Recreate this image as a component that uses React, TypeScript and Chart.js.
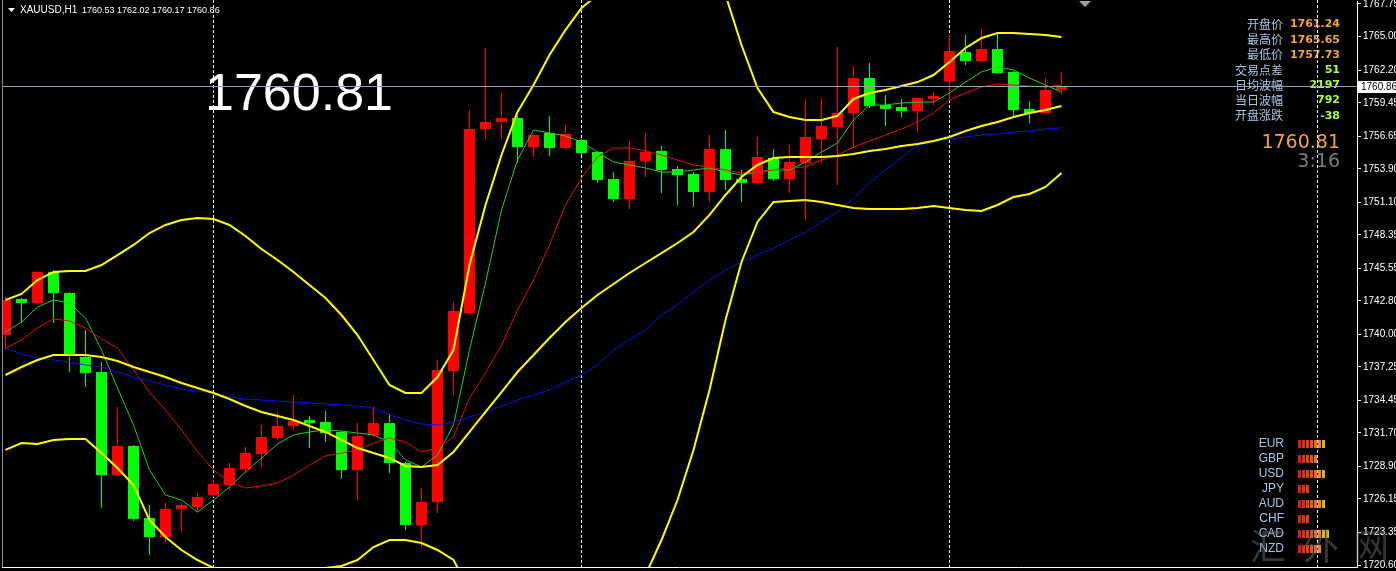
import React, { useEffect, useRef } from 'react';
import { Chart, registerables } from 'chart.js';

Chart.register(...registerables);

// ---- data ----
const TITLE_SYMBOL = 'XAUUSD,H1';
const TITLE_OHLC = '1760.53 1762.02 1760.17 1760.86';
const BIG_PRICE = '1760.81';
const LAST_PRICE = 1760.86;
const SEPARATOR_INDEX = [13, 36, 59, 82];

const OPEN = [
  1739.93, 1742.96, 1742.62, 1745.23, 1743.46, 1738.08, 1736.82, 1728.16, 1730.6, 1724.55,
  1722.95, 1725.31, 1725.47, 1726.48, 1727.32, 1728.67, 1729.93, 1731.27, 1732.28, 1732.79,
  1732.62, 1731.78, 1728.58, 1731.53, 1732.53, 1729.17, 1723.96, 1725.9, 1736.91, 1741.78,
  1757.24, 1757.83, 1758.17, 1755.73, 1756.91, 1755.65, 1756.32, 1755.31, 1753.04, 1751.36,
  1754.56, 1755.4, 1753.88, 1753.46, 1751.95, 1755.56, 1753.04, 1752.71, 1754.81, 1753.04,
  1754.39, 1756.4, 1757.41, 1758.59, 1761.53, 1759.26, 1759.09, 1758.76, 1759.77, 1761.24,
  1763.72, 1762.96, 1763.97, 1762.04, 1758.93, 1758.59, 1760.53,
];
const HIGH = [
  1743.12, 1743.04, 1745.31, 1745.39, 1743.55, 1740.35, 1737.66, 1733.88, 1730.69, 1725.64,
  1725.9, 1725.81, 1726.65, 1727.74, 1729.17, 1730.52, 1732.37, 1733.46, 1734.89, 1733.12,
  1733.54, 1731.86, 1732.53, 1733.96, 1733.29, 1729.26, 1727.07, 1737.83, 1742.7, 1758.84,
  1764.05, 1760.27, 1758.34, 1756.82, 1758.34, 1757.58, 1756.4, 1755.4, 1753.63, 1756.24,
  1756.91, 1755.82, 1754.13, 1753.63, 1756.74, 1757.16, 1753.8, 1756.57, 1755.56, 1755.9,
  1759.77, 1759.85, 1764.14, 1762.54, 1762.79, 1760.1, 1759.77, 1759.93, 1760.35, 1765.15,
  1765.15, 1765.65, 1765.31, 1762.12, 1759.6, 1761.53, 1762.02,
];
const LOW = [
  1738.67, 1740.94, 1742.45, 1740.94, 1736.82, 1735.56, 1725.39, 1728.08, 1724.3, 1721.44,
  1722.45, 1723.37, 1725.05, 1726.32, 1726.9, 1728.33, 1728.84, 1731.11, 1732.03, 1730.43,
  1730.94, 1727.83, 1726.06, 1731.36, 1728.33, 1723.54, 1722.11, 1724.97, 1734.89, 1741.61,
  1756.4, 1756.4, 1754.39, 1754.89, 1754.98, 1755.48, 1755.06, 1752.71, 1751.11, 1750.52,
  1753.21, 1751.87, 1750.86, 1750.69, 1751.11, 1752.12, 1751.11, 1752.54, 1752.87, 1751.87,
  1749.6, 1754.39, 1752.54, 1755.65, 1759.01, 1757.5, 1758.25, 1756.99, 1759.26, 1759.68,
  1762.62, 1762.88, 1761.87, 1758.25, 1757.73, 1758.51, 1760.17,
];
const CLOSE = [
  1742.87, 1742.62, 1745.23, 1743.46, 1738.33, 1736.74, 1728.16, 1730.6, 1724.47, 1722.95,
  1725.31, 1725.64, 1726.32, 1727.41, 1728.75, 1730.01, 1731.36, 1732.28, 1732.7, 1732.53,
  1731.69, 1728.58, 1731.44, 1732.53, 1729.17, 1723.96, 1725.9, 1736.99, 1741.95, 1757.24,
  1757.83, 1758.17, 1755.73, 1756.74, 1755.65, 1756.83, 1755.23, 1752.96, 1751.36, 1754.56,
  1755.31, 1753.8, 1753.38, 1751.95, 1755.56, 1752.96, 1752.71, 1754.89, 1753.04, 1754.47,
  1756.57, 1757.5, 1758.59, 1761.53, 1759.18, 1758.93, 1758.76, 1759.85, 1760.02, 1763.8,
  1762.96, 1763.97, 1761.95, 1758.84, 1758.59, 1760.52, 1760.86,
];

const BB_UPPER = [
  1742.87, 1743.38, 1744.55, 1745.23, 1745.31, 1745.31, 1745.81, 1746.65, 1747.5, 1748.5,
  1749.18, 1749.6, 1749.76, 1749.68, 1749.18, 1748.25, 1747.16, 1746.23, 1745.23, 1744.13,
  1743.04, 1741.61, 1739.93, 1737.83, 1735.73, 1735.06, 1735.06, 1736.4, 1738.67, 1745.81,
  1750.86, 1755.06, 1758.67, 1760.94, 1763.46, 1765.57, 1767.41, 1768.51, 1770.61, 1771.87,
  1772.71, 1773.13, 1773.13, 1772.71, 1771.45, 1768.51, 1764.3, 1760.69, 1758.67, 1758.25,
  1758.0, 1758.0, 1758.34, 1759.77, 1760.27, 1760.52, 1760.86, 1761.19, 1761.78, 1762.88,
  1764.05, 1764.89, 1765.31, 1765.31, 1765.23, 1765.15, 1764.98,
];
const BB_MID = [
  1736.57, 1737.24, 1737.83, 1738.25, 1738.25, 1738.25, 1738.08, 1737.75, 1737.24, 1736.82,
  1736.4, 1735.9, 1735.48, 1735.06, 1734.55, 1733.96, 1733.46, 1733.12, 1732.79, 1732.28,
  1731.78, 1731.11, 1730.43, 1730.01, 1729.59, 1728.92, 1728.84, 1729.0, 1730.1, 1731.78,
  1733.46, 1735.14, 1736.82, 1738.25, 1739.68, 1741.02, 1742.2, 1743.29, 1744.22, 1745.14,
  1745.98, 1746.82, 1747.66, 1748.59, 1750.02, 1751.7, 1753.21, 1754.22, 1754.81, 1754.89,
  1754.89, 1754.89, 1754.98, 1755.14, 1755.4, 1755.56, 1755.82, 1755.98, 1756.24, 1756.57,
  1757.08, 1757.5, 1757.83, 1758.25, 1758.59, 1758.84, 1759.18,
];
const BB_LOWER = [
  1730.27, 1730.85, 1730.77, 1731.11, 1731.19, 1731.19, 1730.01, 1728.75, 1727.32, 1724.38,
  1722.95, 1721.86, 1721.02, 1720.35, 1719.76, 1719.34, 1719.51, 1719.76, 1720.01, 1720.18,
  1720.35, 1720.52, 1721.02, 1722.11, 1722.7, 1722.7, 1722.45, 1721.86, 1721.02, 1718.5,
  1716.4, 1715.14, 1714.3, 1714.3, 1714.3, 1714.72, 1715.56, 1716.4, 1717.24, 1718.08,
  1719.76, 1722.7, 1726.06, 1730.27, 1735.31, 1741.19, 1746.07, 1749.43, 1751.11, 1751.19,
  1751.28, 1751.11, 1750.86, 1750.61, 1750.52, 1750.52, 1750.52, 1750.61, 1750.77, 1750.61,
  1750.44, 1750.35, 1750.86, 1751.53, 1751.78, 1752.37, 1753.55,
];
const MA_GREEN = [
  1740.18, 1741.02, 1742.28, 1742.87, 1742.62, 1741.36, 1738.67, 1735.48, 1732.37, 1728.58,
  1726.48, 1726.06, 1725.05, 1726.06, 1727.16, 1728.42, 1729.59, 1730.77, 1731.53, 1731.78,
  1731.95, 1731.86, 1731.69, 1731.53, 1730.94, 1729.43, 1728.84, 1729.85, 1732.37, 1738.67,
  1744.3, 1750.44, 1754.64, 1757.16, 1756.91, 1756.66, 1756.15, 1755.31, 1754.47, 1754.22,
  1753.97, 1753.63, 1753.63, 1753.8, 1753.97, 1753.63, 1753.38, 1753.63, 1753.8, 1753.8,
  1754.47, 1755.31, 1756.07, 1758.0, 1759.26, 1759.26, 1759.43, 1759.51, 1759.51, 1760.27,
  1761.19, 1762.04, 1762.46, 1762.2, 1761.53, 1760.94, 1760.35,
];
const MA_RED = [
  1738.84, 1739.51, 1740.52, 1741.28, 1741.11, 1740.52, 1739.59, 1738.84, 1736.99, 1735.14,
  1733.63, 1731.95, 1730.1, 1728.58, 1727.58, 1727.07, 1727.24, 1727.49, 1728.16, 1729.0,
  1729.76, 1730.01, 1730.27, 1730.85, 1731.27, 1730.94, 1730.1, 1730.43, 1731.36, 1734.64,
  1736.74, 1739.09, 1742.03, 1744.55, 1747.5, 1750.86, 1753.13, 1754.89, 1755.65, 1755.65,
  1755.4, 1755.06, 1754.64, 1754.22, 1754.05, 1753.8, 1753.55, 1753.63, 1753.8, 1753.97,
  1754.05, 1754.64, 1755.06, 1755.73, 1756.24, 1756.74, 1757.24, 1757.83, 1758.59, 1759.68,
  1760.27, 1760.77, 1761.03, 1760.94, 1760.86, 1760.77, 1760.94,
];
const MA_BLUE = [
  1738.84, 1738.33, 1738.0, 1737.83, 1737.66, 1737.41, 1737.24, 1736.82, 1736.4, 1736.06,
  1735.73, 1735.39, 1735.22, 1735.06, 1734.72, 1734.55, 1734.47, 1734.38, 1734.3, 1734.22,
  1734.13, 1734.05, 1733.96, 1733.8, 1733.21, 1732.79, 1732.45, 1732.37, 1732.62, 1733.04,
  1733.46, 1733.96, 1734.47, 1734.89, 1735.31, 1735.98, 1736.57, 1737.41, 1738.67, 1739.51,
  1740.35, 1741.61, 1742.45, 1743.55, 1744.55, 1745.39, 1746.07, 1746.65, 1747.24, 1747.92,
  1748.59, 1749.43, 1750.27, 1751.45, 1752.71, 1753.8, 1754.89, 1755.82, 1756.24, 1756.4,
  1756.57, 1756.74, 1756.82, 1756.99, 1757.08, 1757.25, 1757.33,
];

const Y_TICKS = [
  1767.75, 1765.0, 1762.2, 1759.45, 1756.65, 1753.9, 1751.1, 1748.35, 1745.55,
  1742.8, 1740.0, 1737.25, 1734.45, 1731.7, 1728.9, 1726.15, 1723.35, 1720.6,
];

const INFO_LABELS = ['开盘价', '最高价', '最低价', '交易点差', '日均波幅', '当日波幅', '开盘涨跌'];
const INFO_VALUES = ['1761.24', '1765.65', '1757.73', '51', '2197', '792', '-38'];
const INFO_IS_PRICE = [true, true, true, false, false, false, false];
const CLOCK_TEXT = '3:16';

const CURRENCIES = ['EUR', 'GBP', 'USD', 'JPY', 'AUD', 'CHF', 'CAD', 'NZD'];
const STRENGTH = [7, 5, 7, 3, 7, 3, 8, 6];
const WATERMARK = ['汇', '外', '网'];

// ---- styles ----
const BULL = '#ff0000';
const BEAR = '#00ff00';
const BAR_COLORS = ['#e01e0e', '#e42c10', '#e83c12', '#ec5214', '#f06a18', '#f08a1e', '#eca828', '#d4b830', '#b4b838'];

const decorPlugin = {
  id: 'mtDecor',
  beforeDraw(chart: any) {
    const { ctx, width, height } = chart;
    ctx.save();
    ctx.fillStyle = '#000';
    ctx.fillRect(0, 0, width, height);
    ctx.restore();
  },
  beforeDatasetsDraw(chart: any) {
    const { ctx, chartArea, scales } = chart;
    ctx.save();
    // info panel
    ctx.textBaseline = 'middle';
    INFO_LABELS.forEach((lab, k) => {
      const y = 24.5 + 15.2 * k;
      ctx.font = '12px "Noto Sans CJK SC"';
      ctx.fillStyle = '#a6c8e6';
      ctx.textAlign = 'right';
      ctx.fillText(lab, 1283, y);
      ctx.font = 'bold 11px "DejaVu Sans"';
      ctx.fillStyle = INFO_IS_PRICE[k] ? '#f7a531' : '#adff2f';
      ctx.fillText(INFO_VALUES[k], 1340, y);
    });
    ctx.textBaseline = 'alphabetic';
    ctx.font = '19px "DejaVu Sans"';
    ctx.fillStyle = '#f2a33a';
    ctx.fillText(BIG_PRICE, 1340, 148);
    ctx.fillStyle = '#7c7c7c';
    ctx.fillText(CLOCK_TEXT, 1340, 167);

    // currency strength
    ctx.textBaseline = 'middle';
    CURRENCIES.forEach((c, k) => {
      const y = 443.5 + 15 * k;
      ctx.font = '12px "Liberation Sans"';
      ctx.fillStyle = '#a6c8e6';
      ctx.textAlign = 'right';
      ctx.fillText(c, 1284, y);
      for (let j = 0; j < STRENGTH[k]; j++) {
        ctx.fillStyle = BAR_COLORS[j];
        ctx.fillRect(1298 + 4 * j, Math.round(y) - 4, 3, 8);
      }
    });

    // big price
    ctx.textAlign = 'left';
    ctx.textBaseline = 'alphabetic';
    ctx.font = '52px "Liberation Sans"';
    ctx.fillStyle = '#ffffff';
    ctx.fillText(BIG_PRICE, 205, 110);

    // day separators
    ctx.strokeStyle = '#ffffff';
    ctx.lineWidth = 1;
    ctx.setLineDash([3, 2]);
    SEPARATOR_INDEX.forEach((i) => {
      const x = Math.floor(scales.x.getPixelForValue(i)) + 0.5;
      ctx.beginPath();
      ctx.moveTo(x, 0);
      ctx.lineTo(x, chartArea.bottom);
      ctx.stroke();
    });
    ctx.setLineDash([]);
    ctx.restore();
  },
  afterDatasetsDraw(chart: any) {
    const { ctx, chartArea, scales } = chart;
    ctx.save();
    const y = Math.round(scales.y.getPixelForValue(LAST_PRICE)) + 0.5;
    ctx.strokeStyle = '#9aa4b4';
    ctx.lineWidth = 1;
    ctx.beginPath();
    ctx.moveTo(chartArea.left, y);
    ctx.lineTo(chartArea.right, y);
    ctx.stroke();
    ctx.restore();
  },
  afterDraw(chart: any) {
    const { ctx, chartArea, scales, width } = chart;
    ctx.save();
    // frame
    ctx.lineWidth = 1;
    ctx.strokeStyle = '#8c8c8c';
    ctx.beginPath();
    ctx.moveTo(2.5, 0);
    ctx.lineTo(2.5, chartArea.bottom + 1);
    ctx.stroke();
    ctx.strokeStyle = '#ffffff';
    ctx.beginPath();
    ctx.moveTo(2, chartArea.bottom + 0.5);
    ctx.lineTo(chartArea.right, chartArea.bottom + 0.5);
    ctx.stroke();

    // price label on axis
    const y = Math.round(scales.y.getPixelForValue(LAST_PRICE));
    ctx.fillStyle = '#ffffff';
    ctx.fillRect(chartArea.right + 1, y - 5, width - chartArea.right - 1, 12);
    ctx.fillStyle = '#000000';
    ctx.font = '10px "Liberation Sans"';
    ctx.textAlign = 'left';
    ctx.textBaseline = 'middle';
    ctx.fillText(LAST_PRICE.toFixed(2), chartArea.right + 4, y + 1);

    // title
    ctx.fillStyle = '#ffffff';
    ctx.beginPath();
    ctx.moveTo(8, 8);
    ctx.lineTo(15, 8);
    ctx.lineTo(11.5, 12);
    ctx.closePath();
    ctx.fill();
    ctx.textBaseline = 'alphabetic';
    ctx.font = '10px "Liberation Sans"';
    ctx.fillText(TITLE_SYMBOL, 20, 13);
    ctx.font = '9px "Liberation Sans"';
    ctx.fillText(TITLE_OHLC, 82, 13);

    // shift marker
    ctx.fillStyle = '#a0a0a0';
    ctx.beginPath();
    ctx.moveTo(1079, 1);
    ctx.lineTo(1091, 1);
    ctx.lineTo(1085, 7);
    ctx.closePath();
    ctx.fill();

    // watermark
    ctx.font = '36px "Noto Sans CJK SC"';
    ctx.fillStyle = 'rgba(120,120,120,0.45)';
    ctx.textAlign = 'left';
    ctx.textBaseline = 'alphabetic';
    const wx = [1250, 1303, 1353];
    WATERMARK.forEach((ch, k) => ctx.fillText(ch, wx[k], 560));
    ctx.restore();
  },
};

export default function App() {
  const ref = useRef<HTMLCanvasElement>(null);

  useEffect(() => {
    document.body.style.margin = '0';
    document.body.style.background = '#000';
    const idx = OPEN.map((_, i) => i);
    const colors = idx.map((i) => (CLOSE[i] >= OPEN[i] ? BULL : BEAR));
    const line = (values: number[], color: string, w: number, order: number) => ({
      type: 'line' as const,
      data: idx.map((i) => ({ x: i, y: values[i] })),
      borderColor: color,
      borderWidth: w,
      pointRadius: 0,
      tension: 0,
      fill: false,
      clip: 0,
      order,
    });

    const chart = new Chart(ref.current as HTMLCanvasElement, {
      type: 'bar',
      data: {
        datasets: [
          line(BB_UPPER, '#ffff00', 2, 0),
          line(BB_MID, '#ffff00', 2, 0),
          line(BB_LOWER, '#ffff00', 2, 0),
          line(MA_BLUE, '#0a14e6', 1, 1),
          line(MA_RED, '#e01010', 1, 2),
          line(MA_GREEN, '#20d020', 1, 3),
          {
            type: 'bar' as const,
            data: idx.map((i) => ({ x: i, y: [OPEN[i], CLOSE[i]] })),
            backgroundColor: colors,
            borderWidth: 0,
            barThickness: 11,
            grouped: false,
            minBarLength: 1,
            inflateAmount: 0,
            order: 5,
          } as any,
          {
            type: 'bar' as const,
            data: idx.map((i) => ({ x: i, y: [LOW[i], HIGH[i]] })),
            backgroundColor: colors,
            borderWidth: 0,
            barThickness: 1,
            grouped: false,
            inflateAmount: 0,
            order: 6,
          } as any,
        ],
      },
      options: {
        responsive: false,
        animation: false,
        events: [],
        devicePixelRatio: 1,
        layout: { padding: { left: 3, top: 1, right: 0, bottom: 4 } },
        plugins: { legend: { display: false }, tooltip: { enabled: false } },
        scales: {
          x: {
            type: 'linear',
            min: -0.15625,
            max: 84.46875,
            offset: false,
            display: false,
          },
          y: {
            type: 'linear',
            position: 'right',
            min: 1720.432,
            max: 1768.002,
            beginAtZero: false,
            afterBuildTicks: (scale: any) => {
              scale.ticks = Y_TICKS.map((v) => ({ value: v }));
            },
            afterFit: (scale: any) => {
              scale.width = 39;
              scale.paddingTop = 0;
              scale.paddingBottom = 0;
            },
            border: { display: true, color: '#ffffff', width: 1 },
            grid: { drawOnChartArea: false, drawTicks: true, tickLength: 4, color: '#ffffff' },
            ticks: {
              autoSkip: false,
              padding: 2,
              color: '#ffffff',
              font: { family: 'Liberation Sans', size: 10 },
              callback: (v: any) => Number(v).toFixed(2),
            },
          },
        },
      } as any,
      plugins: [decorPlugin],
    });
    return () => chart.destroy();
  }, []);

  return (
    <div style={{ position: 'fixed', left: 0, top: 0, width: 1396, height: 571, background: '#000' }}>
      <canvas ref={ref} width={1396} height={571} style={{ display: 'block', width: 1396, height: 571 }} />
    </div>
  );
}
